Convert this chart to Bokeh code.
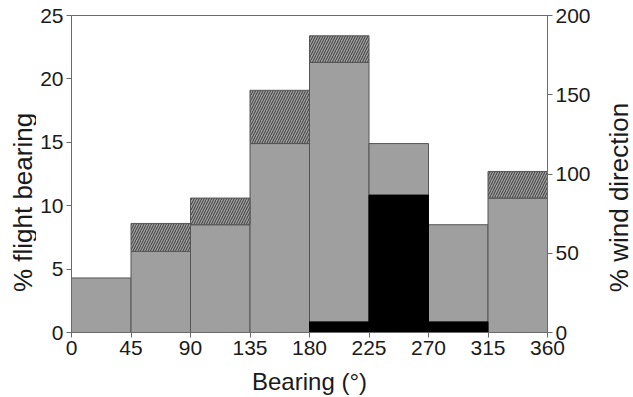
import math
from bokeh.plotting import figure
from bokeh.models import Range1d, LinearAxis, FixedTicker
from bokeh.layouts import row
from bokeh.core.properties import value
from bokeh.embed import file_html
from bokeh.resources import INLINE

# Data
bin_left = [0, 45, 90, 135, 180, 225, 270, 315]
bin_right = [45, 90, 135, 180, 225, 270, 315, 360]
flight_base = [4.3, 6.4, 8.5, 14.9, 21.3, 14.9, 8.5, 10.6]
flight_total = [4.3, 8.6, 10.6, 19.1, 23.4, 14.9, 8.5, 12.7]
wind_pct = [0, 0, 0, 0, 6.7, 86.7, 6.7, 0]
x_ticks = [0, 45, 90, 135, 180, 225, 270, 315, 360]
left_ticks = [0, 5, 10, 15, 20, 25]
right_ticks = [0, 50, 100, 150, 200]
x_title = "Bearing (°)"
left_title = "% flight bearing"
right_title = "% wind direction"

FONT = "Liberation Sans"
AXIS_COL = "#6a6a6a"
TEXT_COL = "#1a1a1a"
GRAY = "#9f9f9f"

H = 397
LW, RW = 36, 40          # widths of the side strips holding the vertical titles
FW, FH = 476, 317
BL, BR, BT, BB = 35, 46, 15, 65

p = figure(frame_width=FW, frame_height=FH, output_backend="svg",
           toolbar_location=None, x_range=Range1d(0, 360), y_range=Range1d(0, 25),
           min_border_left=BL, min_border_right=BR, min_border_top=BT,
           min_border_bottom=BB)
p.extra_y_ranges = {"wind": Range1d(0, 200)}
p.grid.visible = False
p.outline_line_color = AXIS_COL
p.outline_line_width = 1
p.background_fill_color = "white"
p.border_fill_color = "white"

# gray base bars
p.quad(left=bin_left, right=bin_right, bottom=0, top=flight_base,
       fill_color=GRAY, line_color="#555555", line_width=1)

# hatched extra part
hl, hr, hb, ht = [], [], [], []
for l, r, b, t in zip(bin_left, bin_right, flight_base, flight_total):
    if t > b:
        hl.append(l); hr.append(r); hb.append(b); ht.append(t)
p.quad(left=hl, right=hr, bottom=hb, top=ht, fill_color=GRAY,
       hatch_pattern="/", hatch_color="#3a3a3a", hatch_scale=5, hatch_weight=1,
       line_color="#555555", line_width=1)

# wind bars (right axis)
wl, wr, wt = [], [], []
for l, r, w in zip(bin_left, bin_right, wind_pct):
    if w > 0:
        wl.append(l); wr.append(r); wt.append(w)
p.quad(left=wl, right=wr, bottom=0, top=wt, y_range_name="wind",
       fill_color="black", line_color="black", line_width=1)

right_axis = LinearAxis(y_range_name="wind")
p.add_layout(right_axis, "right")

p.xaxis.ticker = FixedTicker(ticks=x_ticks)
p.yaxis[0].ticker = FixedTicker(ticks=left_ticks)
right_axis.ticker = FixedTicker(ticks=right_ticks)

p.xaxis.axis_label = x_title

for ax in [p.xaxis[0], p.yaxis[0], right_axis]:
    ax.axis_line_color = AXIS_COL
    ax.major_tick_line_color = AXIS_COL
    ax.major_tick_out = 5
    ax.major_tick_in = 0
    ax.minor_tick_line_color = None
    ax.major_label_text_font = FONT
    ax.major_label_text_font_size = "21px"
    ax.major_label_text_color = TEXT_COL
    ax.axis_label_text_font = FONT
    ax.axis_label_text_font_style = "normal"
    ax.axis_label_text_color = TEXT_COL
    ax.major_label_standoff = 3

p.xaxis[0].axis_label_text_font_size = "24px"
p.xaxis[0].axis_label_standoff = 10


def title_strip(width, text, cx, cy):
    s = figure(frame_width=width, frame_height=H, output_backend="svg",
               toolbar_location=None, title=None,
               x_range=Range1d(0, width), y_range=Range1d(0, H),
               x_axis_type=None, y_axis_type=None, min_border=0)
    s.outline_line_color = None
    s.background_fill_color = "white"
    s.border_fill_color = "white"
    s.text(x=[cx], y=[H - cy], text=[text], angle=math.pi / 2,
           text_align="center", text_baseline="middle",
           text_font=value(FONT), text_font_size="26px", text_color=TEXT_COL)
    return s


left_strip = title_strip(LW, left_title, 22, 187)
right_strip = title_strip(RW, right_title, 25, 182)

layout = row(left_strip, p, right_strip, spacing=0)

open("out.html", "w").write(file_html(layout, INLINE))
